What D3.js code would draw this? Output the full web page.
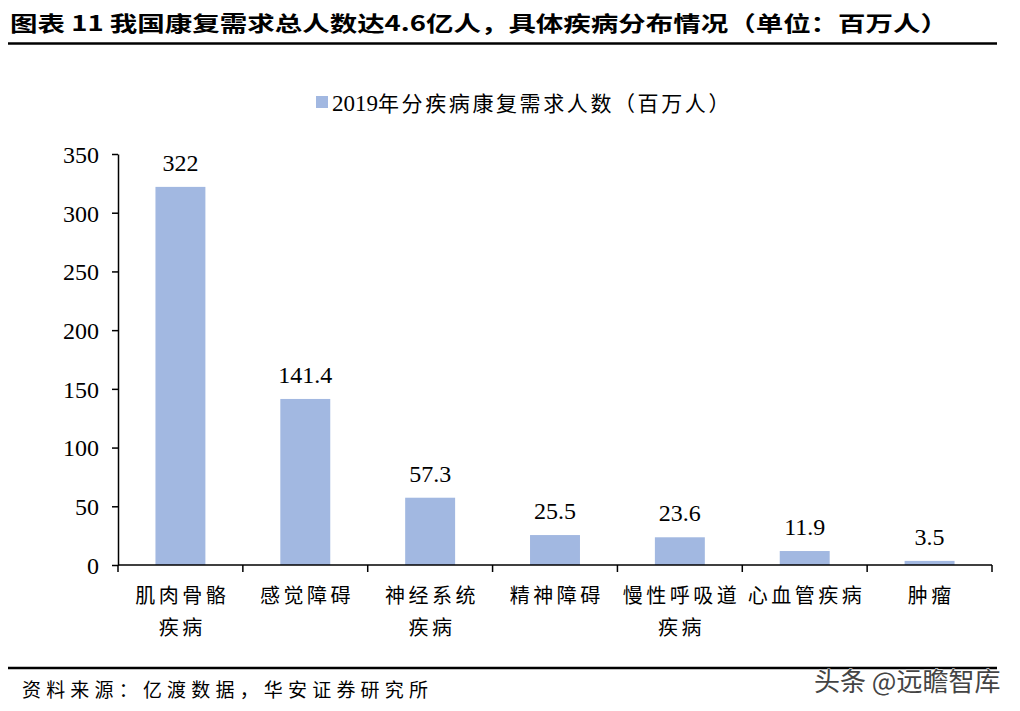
<!DOCTYPE html>
<html><head><meta charset="utf-8">
<script src="https://cdn.jsdelivr.net/npm/d3@7"></script>
<style>body{margin:0;background:#fff}svg{display:block}</style>
</head><body>
<svg id="c" width="1020" height="711"></svg>
<script>
const categories = ["肌肉骨骼疾病","感觉障碍","神经系统疾病","精神障碍","慢性呼吸道疾病","心血管疾病","肿瘤"];
const values = [322, 141.4, 57.3, 25.5, 23.6, 11.9, 3.5];
const valueLabels = ["322","141.4","57.3","25.5","23.6","11.9","3.5"];
const yTicks = [0,50,100,150,200,250,300,350];
const seriesYear = "2019";
const seriesName = "年分疾病康复需求人数（百万人）";
const titleText = "图表 11 我国康复需求总人数达4.6亿人，具体疾病分布情况（单位：百万人）";
const sourceText = "资料来源：亿渡数据，华安证券研究所";
const watermark = "头条 @远瞻智库";

const svg = d3.select("#c");
const serif = "'Liberation Serif','Times New Roman','Noto Sans CJK SC',serif";
const cjk = "'Noto Sans CJK SC','Liberation Serif',serif";
const barColor = "#A2B8E1";

// title
svg.append("text").attr("x",10).attr("y",31).attr("font-family",cjk).attr("font-weight","bold")
  .attr("font-size",21).attr("textLength",938).attr("lengthAdjust","spacingAndGlyphs").text(titleText);
svg.append("line").attr("x1",8).attr("x2",997).attr("y1",43.5).attr("y2",43.5).attr("stroke","#000").attr("stroke-width",2.5);

// legend
svg.append("rect").attr("x",316).attr("y",96).attr("width",12).attr("height",12).attr("fill",barColor);
const lg = svg.append("text").attr("x",332).attr("y",111).attr("font-size",22);
lg.append("tspan").attr("font-family",serif).attr("font-size",23).text(seriesYear);
lg.append("tspan").attr("font-family",cjk).attr("font-size",21).attr("letter-spacing",2.6).text(seriesName);

const x0 = 118, x1 = 992, yTop = 154, yBot = 565;
const xSlot = d3.scaleBand().domain(categories).range([x0, x1]).padding(0);
const y = d3.scaleLinear().domain([0,350]).range([yBot, yTop]);

// bars
const bw = xSlot.bandwidth()*0.4;
svg.selectAll("rect.bar").data(values).enter().append("rect").attr("class","bar")
  .attr("x",(d,i)=>xSlot(categories[i])+xSlot.bandwidth()*0.3)
  .attr("y",d=>y(d)).attr("width",bw).attr("height",d=>yBot-y(d)).attr("fill",barColor);

// value labels
svg.selectAll("text.val").data(values).enter().append("text").attr("class","val")
  .attr("x",(d,i)=>xSlot(categories[i])+xSlot.bandwidth()/2)
  .attr("y",d=>y(d)-16).attr("text-anchor","middle").attr("font-family",serif).attr("font-size",24)
  .text((d,i)=>valueLabels[i]);

// y axis
const yAxis = d3.axisLeft(y).tickValues(yTicks).tickSize(6).tickPadding(13).tickSizeOuter(0);
const gy = svg.append("g").attr("transform",`translate(${x0},0)`).call(yAxis);
gy.select(".domain").attr("stroke","#000").attr("stroke-width",1.5);
gy.selectAll(".tick line").attr("stroke","#000").attr("stroke-width",1.5);
gy.selectAll(".tick text").attr("font-family",serif).attr("font-size",24).attr("fill","#000").attr("dy","0.35em");

// x axis
svg.append("line").attr("x1",x0).attr("x2",x1).attr("y1",yBot).attr("y2",yBot).attr("stroke","#000").attr("stroke-width",1.5);
const bounds = categories.map(c=>xSlot(c)).concat([x1]);
svg.selectAll("line.xt").data(bounds).enter().append("line").attr("class","xt")
  .attr("x1",d=>d).attr("x2",d=>d).attr("y1",yBot).attr("y2",yBot+7).attr("stroke","#000").attr("stroke-width",1.5);

function wrap(name){
  if (name.length > 5 && name.endsWith("疾病")) return [name.slice(0,-2), "疾病"];
  return [name];
}
categories.forEach(c=>{
  const lines = wrap(c);
  const t = svg.append("text").attr("font-family",cjk).attr("font-size",20).attr("text-anchor","middle")
    .attr("letter-spacing",3.5);
  lines.forEach((l,k)=>{
    t.append("tspan").attr("x",xSlot(c)+xSlot.bandwidth()/2+1.75).attr("y",603+k*32).text(l);
  });
});

// bottom
svg.append("line").attr("x1",8).attr("x2",997).attr("y1",668).attr("y2",668).attr("stroke","#000").attr("stroke-width",2.5);
svg.append("text").attr("x",22).attr("y",697).attr("font-family",cjk).attr("font-size",19)
  .attr("textLength",406).attr("lengthAdjust","spacing").text(sourceText);
svg.append("text").attr("x",814).attr("y",691).attr("font-family","'Noto Sans CJK SC',sans-serif").attr("font-size",26)
  .attr("fill","#444").attr("stroke","#fff").attr("stroke-width",0.8).attr("paint-order","stroke").text(watermark);
</script>
</body></html>
